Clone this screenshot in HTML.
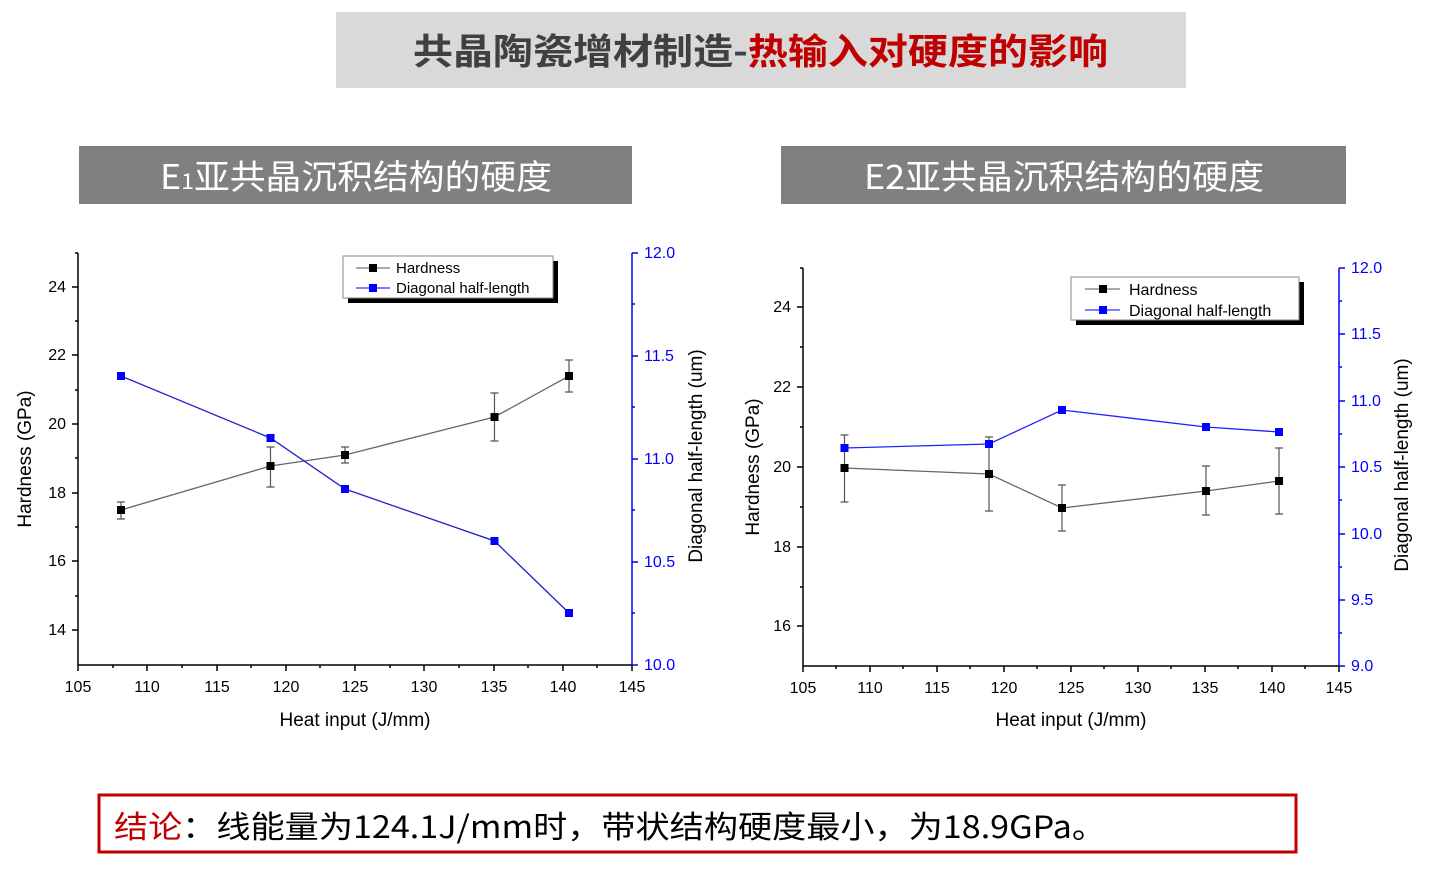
<!DOCTYPE html>
<html><head><meta charset="utf-8"><style>body{margin:0;background:#fff}svg{display:block}</style></head><body>
<svg width="1430" height="888" viewBox="0 0 1430 888" xmlns="http://www.w3.org/2000/svg" font-family="Liberation Sans, Noto Sans CJK SC, sans-serif">
<rect x="336" y="12" width="850" height="76" fill="#d9d9d9"/>
<text x="413" y="64" font-size="36" font-weight="bold" textLength="695" lengthAdjust="spacingAndGlyphs" font-family="Noto Sans CJK SC, sans-serif"><tspan fill="#404040">共晶陶瓷增材制造-</tspan><tspan fill="#c00000">热输入对硬度的影响</tspan></text>
<rect x="79" y="146" width="553" height="58" fill="#808080"/>
<text x="160" y="189" font-size="34" fill="#fff" textLength="392" lengthAdjust="spacingAndGlyphs" font-family="Noto Sans CJK SC, sans-serif">E<tspan font-size="22">1</tspan>亚共晶沉积结构的硬度</text>
<rect x="781" y="146" width="565" height="58" fill="#808080"/>
<text x="864" y="189" font-size="34" fill="#fff" textLength="400" lengthAdjust="spacingAndGlyphs" font-family="Noto Sans CJK SC, sans-serif">E2亚共晶沉积结构的硬度</text>
<rect x="99" y="795" width="1197" height="57" fill="none" stroke="#c00000" stroke-width="3"/>
<text x="114" y="838" font-size="31" textLength="992" lengthAdjust="spacingAndGlyphs" font-family="WenQuanYi Zen Hei, Noto Sans CJK SC, sans-serif"><tspan fill="#c00000">结论</tspan><tspan fill="#000">：线能量为124.1J/mm时，带状结构硬度最小，为18.9GPa。</tspan></text>

<!-- LEFT CHART -->
<g stroke="#000" stroke-width="1.5" fill="none">
<line x1="78" y1="253" x2="78" y2="665"/><line x1="78" y1="665" x2="632" y2="665"/>
<path d="M78 287h-6M78 355h-6M78 424h-6M78 493h-6M78 561h-6M78 630h-6M78 321h-3M78 390h-3M78 458h-3M78 527h-3M78 596h-3M78 253h-3"/>
<path d="M78 665v6M147 665v6M217 665v6M286 665v6M355 665v6M424 665v6M494 665v6M563 665v6M632 665v6M113 665v3M182 665v3M251 665v3M320 665v3M390 665v3M459 665v3M528 665v3M597 665v3"/>
</g>
<g stroke="#0000ff" stroke-width="1.5"><line x1="632" y1="253" x2="632" y2="665"/>
<path d="M632 253h6M632 356h6M632 459h6M632 562h6M632 665h6M632 304h3M632 407h3M632 510h3M632 613h3"/></g>
<g font-size="16" fill="#000" text-anchor="end"><text x="66" y="292">24</text><text x="66" y="360">22</text><text x="66" y="429">20</text><text x="66" y="498">18</text><text x="66" y="566">16</text><text x="66" y="635">14</text></g>
<g font-size="16" fill="#0000ff"><text x="644" y="258">12.0</text><text x="644" y="361">11.5</text><text x="644" y="464">11.0</text><text x="644" y="567">10.5</text><text x="644" y="670">10.0</text></g>
<g font-size="16" fill="#000" text-anchor="middle"><text x="78" y="692">105</text><text x="147" y="692">110</text><text x="217" y="692">115</text><text x="286" y="692">120</text><text x="355" y="692">125</text><text x="424" y="692">130</text><text x="494" y="692">135</text><text x="563" y="692">140</text><text x="632" y="692">145</text></g>
<text x="355" y="726" font-size="19" text-anchor="middle">Heat input (J/mm)</text>
<text transform="translate(31 459) rotate(-90)" font-size="19" text-anchor="middle">Hardness (GPa)</text>
<text transform="translate(702 456) rotate(-90)" font-size="19" text-anchor="middle">Diagonal half-length (um)</text>
<g stroke="#555" stroke-width="1.2"><path d="M121 502v17M117 502h8M117 519h8M270.5 447v40M266.5 447h8M266.5 487h8M345 447v16M341 447h8M341 463h8M494.5 393v48M490.5 393h8M490.5 441h8M569 360v32M565 360h8M565 392h8"/></g>
<polyline points="121,510 270.5,466 345,455 494.5,417 569,376" fill="none" stroke="#666" stroke-width="1.3"/>
<g fill="#000"><rect x="117" y="506" width="8" height="8"/><rect x="266.5" y="462" width="8" height="8"/><rect x="341" y="451" width="8" height="8"/><rect x="490.5" y="413" width="8" height="8"/><rect x="565" y="372" width="8" height="8"/></g>
<polyline points="121,376 270.5,438 345,489 494.5,541 569,613" fill="none" stroke="#2020cc" stroke-width="1.3"/>
<g fill="#0000ff"><rect x="117" y="372" width="8" height="8"/><rect x="266.5" y="434" width="8" height="8"/><rect x="341" y="485" width="8" height="8"/><rect x="490.5" y="537" width="8" height="8"/><rect x="565" y="609" width="8" height="8"/></g>
<rect x="348" y="261" width="210" height="42" fill="#000"/>
<rect x="343" y="256" width="210" height="42" fill="#fff" stroke="#888"/>
<line x1="356" y1="268" x2="390" y2="268" stroke="#555"/><rect x="369" y="264" width="8" height="8" fill="#000"/>
<line x1="356" y1="288" x2="390" y2="288" stroke="#00f"/><rect x="369" y="284" width="8" height="8" fill="#00f"/>
<text x="396" y="273" font-size="15">Hardness</text><text x="396" y="293" font-size="15">Diagonal half-length</text>

<!-- RIGHT CHART -->
<g stroke="#000" stroke-width="1.5" fill="none">
<line x1="803" y1="268" x2="803" y2="666"/><line x1="803" y1="666" x2="1339" y2="666"/>
<path d="M803 307h-6M803 387h-6M803 467h-6M803 547h-6M803 626h-6M803 347h-3M803 427h-3M803 507h-3M803 587h-3M803 268h-3"/>
<path d="M803 666v6M870 666v6M937 666v6M1004 666v6M1071 666v6M1138 666v6M1205 666v6M1272 666v6M1339 666v6M836 666v3M903 666v3M970 666v3M1037 666v3M1104 666v3M1171 666v3M1238 666v3M1305 666v3"/>
</g>
<g stroke="#0000ff" stroke-width="1.5"><line x1="1339" y1="268" x2="1339" y2="666"/>
<path d="M1339 268h6M1339 334h6M1339 401h6M1339 467h6M1339 534h6M1339 600h6M1339 666h6M1339 301h3M1339 367h3M1339 434h3M1339 500h3M1339 567h3M1339 633h3"/></g>
<g font-size="16" fill="#000" text-anchor="end"><text x="791" y="312">24</text><text x="791" y="392">22</text><text x="791" y="472">20</text><text x="791" y="552">18</text><text x="791" y="631">16</text></g>
<g font-size="16" fill="#0000ff"><text x="1351" y="273">12.0</text><text x="1351" y="339">11.5</text><text x="1351" y="406">11.0</text><text x="1351" y="472">10.5</text><text x="1351" y="539">10.0</text><text x="1351" y="605">9.5</text><text x="1351" y="671">9.0</text></g>
<g font-size="16" fill="#000" text-anchor="middle"><text x="803" y="693">105</text><text x="870" y="693">110</text><text x="937" y="693">115</text><text x="1004" y="693">120</text><text x="1071" y="693">125</text><text x="1138" y="693">130</text><text x="1205" y="693">135</text><text x="1272" y="693">140</text><text x="1339" y="693">145</text></g>
<text x="1071" y="726" font-size="19" text-anchor="middle">Heat input (J/mm)</text>
<text transform="translate(759 467) rotate(-90)" font-size="19" text-anchor="middle">Hardness (GPa)</text>
<text transform="translate(1408 465) rotate(-90)" font-size="19" text-anchor="middle">Diagonal half-length (um)</text>
<g stroke="#555" stroke-width="1.2"><path d="M844.5 435v67M840.5 435h8M840.5 502h8M989 437v74M985 437h8M985 511h8M1062 485v46M1058 485h8M1058 531h8M1206 466v49M1202 466h8M1202 515h8M1279 448v66M1275 448h8M1275 514h8"/></g>
<polyline points="844.5,468 989,474 1062,508 1206,491 1279,481" fill="none" stroke="#666" stroke-width="1.3"/>
<g fill="#000"><rect x="840.5" y="464" width="8" height="8"/><rect x="985" y="470" width="8" height="8"/><rect x="1058" y="504" width="8" height="8"/><rect x="1202" y="487" width="8" height="8"/><rect x="1275" y="477" width="8" height="8"/></g>
<polyline points="844.5,448 989,444 1062,410 1206,427 1279,432" fill="none" stroke="#2020ff" stroke-width="1.3"/>
<g fill="#0000ff"><rect x="840.5" y="444" width="8" height="8"/><rect x="985" y="440" width="8" height="8"/><rect x="1058" y="406" width="8" height="8"/><rect x="1202" y="423" width="8" height="8"/><rect x="1275" y="428" width="8" height="8"/></g>
<rect x="1076" y="282" width="228" height="43" fill="#000"/>
<rect x="1071" y="277" width="228" height="43" fill="#fff" stroke="#888"/>
<line x1="1085" y1="289" x2="1120" y2="289" stroke="#555"/><rect x="1099" y="285" width="8" height="8" fill="#000"/>
<line x1="1085" y1="310" x2="1120" y2="310" stroke="#00f"/><rect x="1099" y="306" width="8" height="8" fill="#00f"/>
<text x="1129" y="295" font-size="16">Hardness</text><text x="1129" y="316" font-size="16">Diagonal half-length</text>
</svg>
</body></html>
